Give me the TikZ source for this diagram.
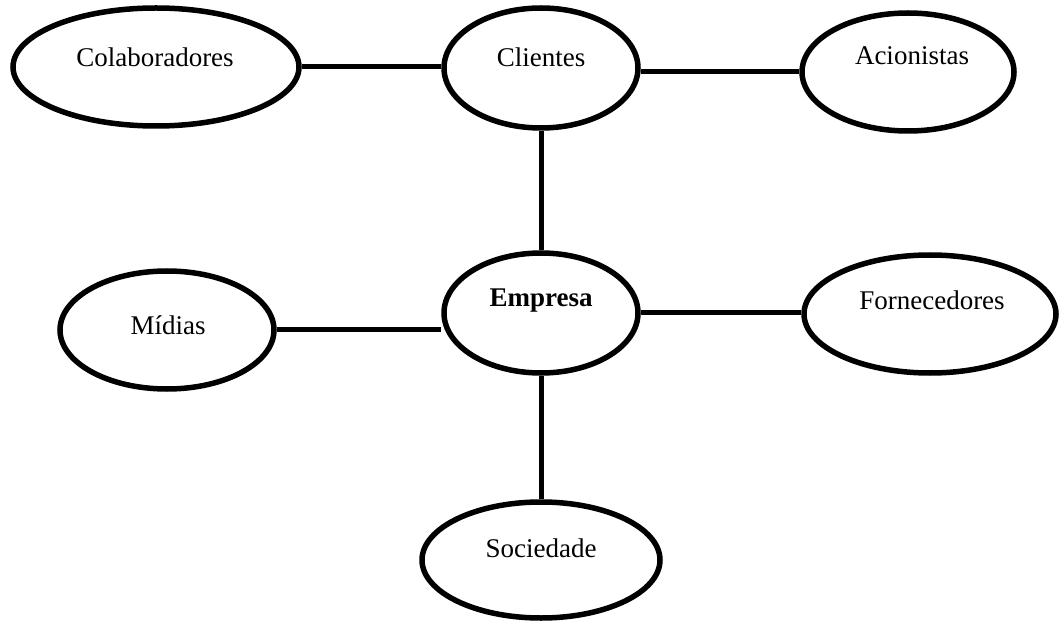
\documentclass[tikz,border=0pt]{standalone}
\usepackage{fontspec}
\setmainfont{Liberation Serif}
\usetikzlibrary{shapes.geometric}
\begin{document}
\begin{tikzpicture}[x=1pt,y=-1pt,
  every node/.style={font=\fontsize{27}{31}\selectfont},
  oval/.style={ellipse, draw=black, line width=5.5pt, inner sep=0pt},
  link/.style={draw=black, line width=5pt}]
\useasboundingbox (0,0) rectangle (1063,628);
\node[oval, minimum width=286pt, minimum height=118pt] (colab) at (156,67) {};
\node[oval, minimum width=194pt, minimum height=120pt] (cli) at (541,68) {};
\node[oval, minimum width=212pt, minimum height=118pt] (acio) at (908,72) {};
\node[oval, minimum width=194pt, minimum height=120pt] (emp) at (541,313) {};
\node[oval, minimum width=214pt, minimum height=118pt] (mid) at (167,330) {};
\node[oval, minimum width=252pt, minimum height=118pt] (forn) at (930,314) {};
\node[oval, minimum width=238pt, minimum height=116pt] (soc) at (541,560) {};
\node (tcolab) at (155,57) {Colaboradores};
\node (tcli) at (541,57) {Clientes};
\node (tacio) at (912,56) {Acionistas};
\node (temp) at (541,301) {\textbf{Empresa}};
\node (tmid) at (168,325) {Mídias};
\node (tforn) at (932,300) {Fornecedores};
\node (tsoc) at (541,548) {Sociedade};
\draw[link] (colab.east) -- (colab.east -| cli.west);
\draw[link] (acio.west) -- (acio.west -| cli.east);
\draw[link] (cli.south) -- (emp.north);
\draw[link] (mid.east) -- (mid.east -| emp.west);
\draw[link] (emp.east) -- (emp.east -| forn.west);
\draw[link] (emp.south) -- (soc.north);
\end{tikzpicture}
\end{document}
